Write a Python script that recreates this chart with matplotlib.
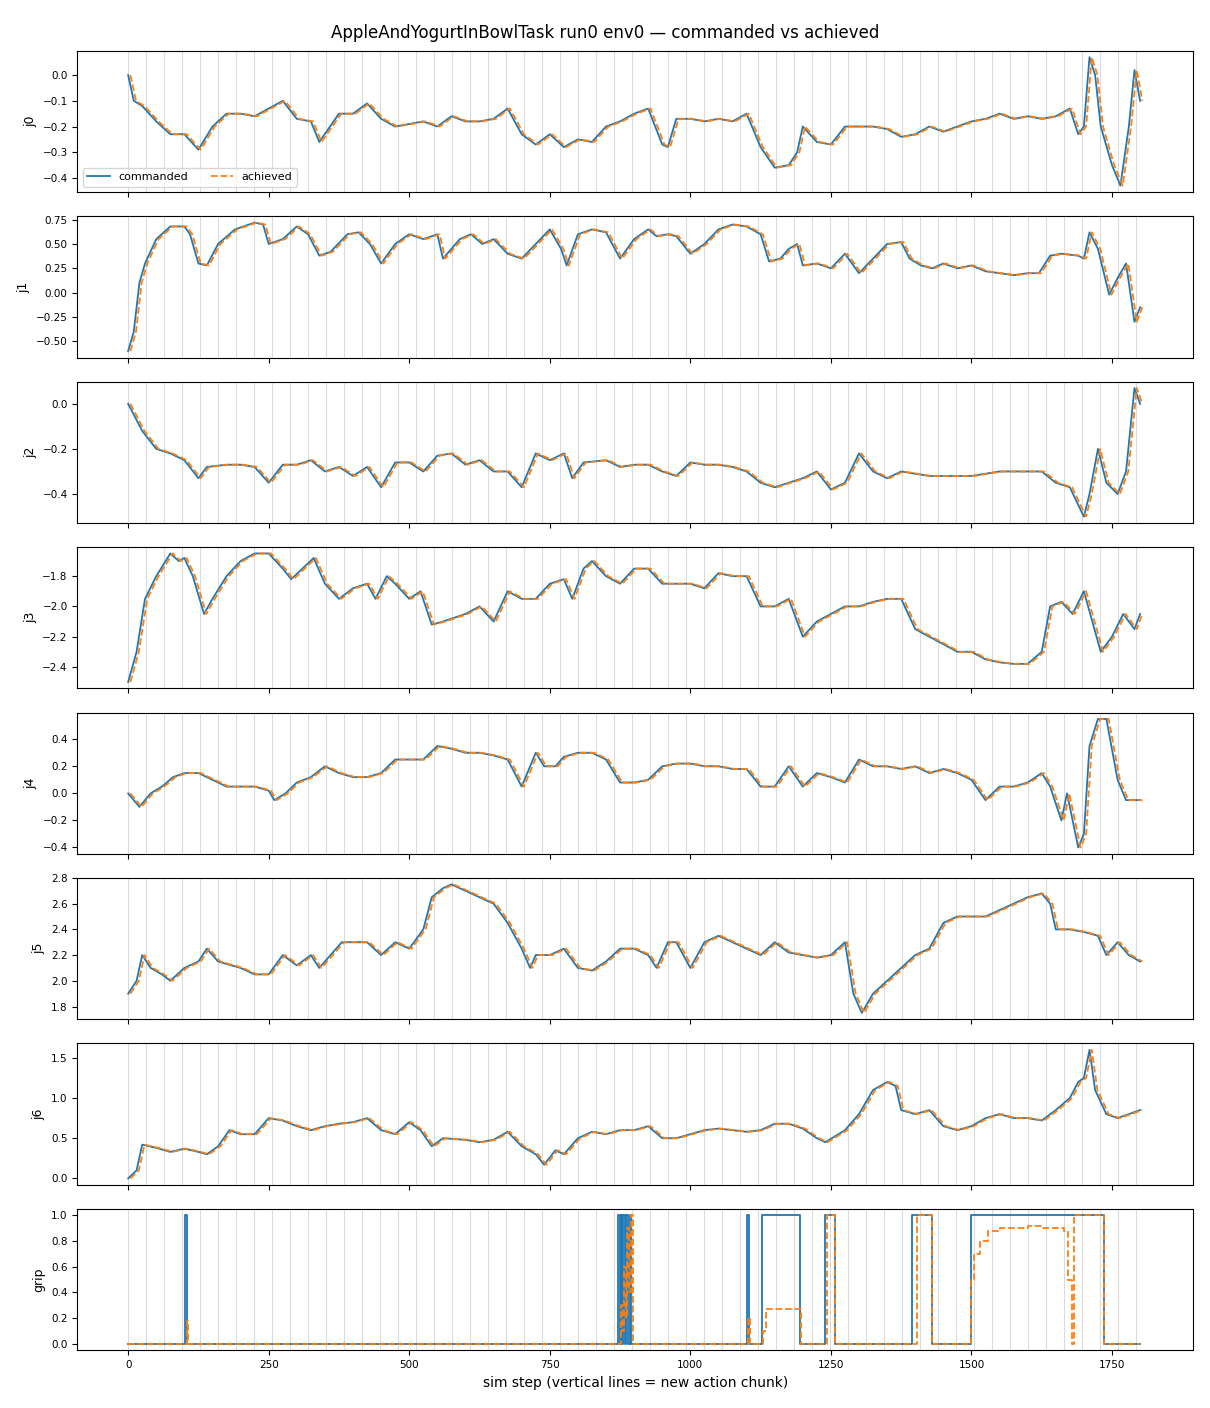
import numpy as np
import matplotlib.pyplot as plt

# keypoints (step, value)
j0_steps = [0, 10, 25, 50, 75, 100, 125, 150, 175, 200, 225, 250, 275, 300, 325, 340, 375, 400, 425, 450, 475, 500, 525, 550, 575, 600, 625, 650, 675, 700, 725, 750, 775, 800, 825, 850, 875, 900, 925, 950, 960, 975, 1000, 1025, 1050, 1075, 1100, 1125, 1150, 1175, 1190, 1200, 1225, 1250, 1275, 1300, 1325, 1350, 1375, 1400, 1425, 1450, 1475, 1500, 1525, 1550, 1575, 1600, 1625, 1650, 1675, 1690, 1700, 1710, 1720, 1730, 1750, 1765, 1780, 1790, 1800]
j0_vals = [0.0, -0.1, -0.12, -0.18, -0.23, -0.23, -0.29, -0.2, -0.15, -0.15, -0.16, -0.13, -0.10, -0.17, -0.18, -0.26, -0.15, -0.15, -0.11, -0.17, -0.2, -0.19, -0.18, -0.2, -0.16, -0.18, -0.18, -0.17, -0.13, -0.23, -0.27, -0.23, -0.28, -0.25, -0.26, -0.2, -0.18, -0.15, -0.13, -0.27, -0.28, -0.17, -0.17, -0.18, -0.17, -0.18, -0.15, -0.28, -0.36, -0.35, -0.3, -0.2, -0.26, -0.27, -0.2, -0.2, -0.2, -0.21, -0.24, -0.23, -0.2, -0.22, -0.2, -0.18, -0.17, -0.15, -0.17, -0.16, -0.17, -0.16, -0.13, -0.23, -0.2, 0.07, 0.0, -0.2, -0.35, -0.43, -0.2, 0.02, -0.1]

j1_steps = [0, 10, 20, 30, 50, 75, 100, 110, 125, 140, 160, 190, 225, 240, 250, 275, 300, 320, 340, 360, 390, 410, 430, 450, 475, 500, 525, 550, 560, 590, 610, 630, 650, 675, 700, 725, 750, 770, 780, 800, 825, 850, 875, 900, 925, 940, 960, 975, 1000, 1025, 1050, 1075, 1100, 1125, 1140, 1160, 1175, 1190, 1200, 1225, 1250, 1275, 1300, 1325, 1350, 1375, 1390, 1410, 1430, 1450, 1475, 1500, 1525, 1550, 1575, 1600, 1620, 1640, 1660, 1690, 1700, 1710, 1725, 1745, 1760, 1775, 1790, 1800]
j1_vals = [-0.6, -0.4, 0.1, 0.3, 0.55, 0.68, 0.68, 0.6, 0.3, 0.28, 0.5, 0.65, 0.72, 0.7, 0.5, 0.55, 0.68, 0.6, 0.38, 0.42, 0.6, 0.62, 0.5, 0.3, 0.5, 0.6, 0.55, 0.6, 0.35, 0.55, 0.6, 0.5, 0.55, 0.4, 0.35, 0.5, 0.65, 0.45, 0.28, 0.6, 0.65, 0.62, 0.35, 0.55, 0.65, 0.58, 0.6, 0.58, 0.4, 0.5, 0.65, 0.7, 0.68, 0.6, 0.32, 0.35, 0.45, 0.5, 0.28, 0.3, 0.25, 0.4, 0.2, 0.35, 0.5, 0.52, 0.35, 0.28, 0.25, 0.3, 0.25, 0.28, 0.22, 0.2, 0.18, 0.2, 0.2, 0.38, 0.4, 0.38, 0.35, 0.62, 0.45, -0.02, 0.15, 0.3, -0.3, -0.15]

j2_steps = [0, 25, 50, 75, 100, 125, 140, 175, 200, 225, 250, 275, 300, 325, 350, 375, 400, 425, 450, 475, 500, 525, 550, 575, 600, 625, 650, 675, 700, 725, 750, 775, 790, 810, 850, 875, 900, 925, 950, 975, 1000, 1025, 1050, 1075, 1100, 1125, 1150, 1175, 1200, 1225, 1250, 1275, 1300, 1325, 1350, 1375, 1400, 1425, 1450, 1475, 1500, 1525, 1550, 1575, 1600, 1625, 1650, 1675, 1700, 1710, 1725, 1740, 1760, 1775, 1790, 1800]
j2_vals = [0.0, -0.12, -0.2, -0.22, -0.25, -0.33, -0.28, -0.27, -0.27, -0.28, -0.35, -0.27, -0.27, -0.25, -0.3, -0.28, -0.32, -0.28, -0.37, -0.26, -0.26, -0.3, -0.23, -0.22, -0.27, -0.25, -0.3, -0.3, -0.37, -0.22, -0.25, -0.22, -0.33, -0.26, -0.25, -0.28, -0.27, -0.27, -0.3, -0.32, -0.26, -0.27, -0.27, -0.28, -0.3, -0.35, -0.37, -0.35, -0.33, -0.3, -0.38, -0.35, -0.22, -0.3, -0.33, -0.3, -0.31, -0.32, -0.32, -0.32, -0.32, -0.31, -0.3, -0.3, -0.3, -0.3, -0.35, -0.37, -0.5, -0.4, -0.2, -0.35, -0.4, -0.3, 0.07, 0.0]

j3_steps = [0, 15, 30, 50, 75, 90, 100, 115, 135, 150, 175, 200, 225, 250, 275, 290, 310, 330, 350, 375, 400, 425, 440, 460, 475, 500, 520, 540, 560, 600, 625, 650, 675, 700, 725, 750, 775, 790, 810, 825, 850, 875, 900, 925, 950, 975, 1000, 1025, 1050, 1075, 1100, 1125, 1150, 1175, 1200, 1225, 1250, 1275, 1300, 1325, 1350, 1375, 1400, 1425, 1450, 1475, 1500, 1525, 1550, 1575, 1600, 1625, 1640, 1660, 1680, 1700, 1715, 1730, 1750, 1770, 1790, 1800]
j3_vals = [-2.5, -2.3, -1.95, -1.8, -1.65, -1.7, -1.68, -1.8, -2.05, -1.95, -1.8, -1.7, -1.65, -1.65, -1.75, -1.82, -1.75, -1.68, -1.85, -1.95, -1.88, -1.85, -1.95, -1.8, -1.85, -1.95, -1.9, -2.12, -2.1, -2.05, -2.0, -2.1, -1.9, -1.95, -1.95, -1.85, -1.82, -1.95, -1.75, -1.7, -1.8, -1.85, -1.75, -1.75, -1.85, -1.85, -1.85, -1.88, -1.78, -1.8, -1.8, -2.0, -2.0, -1.95, -2.2, -2.1, -2.05, -2.0, -2.0, -1.97, -1.95, -1.95, -2.15, -2.2, -2.25, -2.3, -2.3, -2.35, -2.37, -2.38, -2.38, -2.3, -2.0, -1.97, -2.05, -1.9, -2.1, -2.3, -2.2, -2.05, -2.15, -2.05]

j4_steps = [0, 20, 40, 60, 80, 100, 125, 150, 175, 200, 225, 250, 260, 280, 300, 325, 350, 375, 400, 425, 450, 475, 500, 525, 550, 575, 600, 625, 650, 675, 700, 725, 740, 760, 775, 800, 825, 850, 875, 900, 925, 950, 975, 1000, 1025, 1050, 1075, 1100, 1125, 1150, 1175, 1200, 1225, 1250, 1275, 1300, 1325, 1350, 1375, 1400, 1425, 1450, 1475, 1500, 1525, 1550, 1575, 1600, 1625, 1640, 1660, 1670, 1690, 1700, 1710, 1725, 1740, 1760, 1775, 1800]
j4_vals = [0.0, -0.1, 0.0, 0.05, 0.12, 0.15, 0.15, 0.1, 0.05, 0.05, 0.05, 0.02, -0.05, 0.0, 0.08, 0.12, 0.2, 0.15, 0.12, 0.12, 0.15, 0.25, 0.25, 0.25, 0.35, 0.33, 0.3, 0.3, 0.28, 0.25, 0.05, 0.3, 0.2, 0.2, 0.27, 0.3, 0.3, 0.25, 0.08, 0.08, 0.1, 0.2, 0.22, 0.22, 0.2, 0.2, 0.18, 0.18, 0.05, 0.05, 0.2, 0.05, 0.15, 0.12, 0.08, 0.25, 0.2, 0.2, 0.18, 0.2, 0.15, 0.18, 0.15, 0.1, -0.05, 0.05, 0.05, 0.08, 0.15, 0.05, -0.2, 0.0, -0.4, -0.3, 0.35, 0.55, 0.55, 0.1, -0.05, -0.05]

j5_steps = [0, 15, 25, 40, 60, 75, 100, 125, 140, 160, 200, 225, 250, 275, 300, 325, 340, 360, 380, 400, 425, 450, 475, 500, 525, 540, 560, 575, 600, 625, 650, 675, 700, 715, 725, 750, 775, 800, 825, 850, 875, 900, 925, 940, 960, 975, 1000, 1025, 1050, 1075, 1100, 1125, 1150, 1175, 1200, 1225, 1250, 1275, 1290, 1305, 1325, 1350, 1375, 1400, 1425, 1450, 1475, 1500, 1525, 1550, 1575, 1600, 1625, 1640, 1650, 1675, 1700, 1725, 1740, 1760, 1780, 1800]
j5_vals = [1.9, 2.0, 2.2, 2.1, 2.05, 2.0, 2.1, 2.15, 2.25, 2.15, 2.1, 2.05, 2.05, 2.2, 2.12, 2.2, 2.1, 2.2, 2.3, 2.3, 2.3, 2.2, 2.3, 2.25, 2.4, 2.65, 2.72, 2.75, 2.7, 2.65, 2.6, 2.45, 2.25, 2.1, 2.2, 2.2, 2.25, 2.1, 2.08, 2.15, 2.25, 2.25, 2.2, 2.1, 2.3, 2.3, 2.1, 2.3, 2.35, 2.3, 2.25, 2.2, 2.3, 2.22, 2.2, 2.18, 2.2, 2.3, 1.9, 1.75, 1.9, 2.0, 2.1, 2.2, 2.25, 2.45, 2.5, 2.5, 2.5, 2.55, 2.6, 2.65, 2.68, 2.6, 2.4, 2.4, 2.38, 2.35, 2.2, 2.3, 2.2, 2.15]

j6_steps = [0, 15, 25, 50, 75, 100, 125, 140, 160, 180, 200, 225, 250, 275, 300, 325, 350, 375, 400, 425, 450, 475, 500, 520, 540, 560, 600, 625, 650, 675, 700, 725, 740, 760, 775, 800, 825, 850, 875, 900, 925, 950, 975, 1000, 1025, 1050, 1075, 1100, 1125, 1150, 1175, 1200, 1225, 1240, 1275, 1300, 1325, 1350, 1365, 1375, 1400, 1425, 1450, 1475, 1500, 1525, 1550, 1575, 1600, 1625, 1650, 1675, 1690, 1700, 1710, 1720, 1740, 1760, 1780, 1800]
j6_vals = [0.0, 0.1, 0.42, 0.38, 0.33, 0.37, 0.33, 0.3, 0.4, 0.6, 0.55, 0.55, 0.75, 0.72, 0.65, 0.6, 0.65, 0.68, 0.7, 0.75, 0.6, 0.55, 0.7, 0.6, 0.4, 0.5, 0.48, 0.45, 0.48, 0.58, 0.4, 0.3, 0.17, 0.35, 0.3, 0.5, 0.58, 0.55, 0.6, 0.6, 0.65, 0.5, 0.5, 0.55, 0.6, 0.62, 0.6, 0.58, 0.6, 0.68, 0.68, 0.62, 0.5, 0.45, 0.6, 0.8, 1.1, 1.2, 1.15, 0.85, 0.8, 0.85, 0.65, 0.6, 0.65, 0.75, 0.8, 0.75, 0.75, 0.72, 0.85, 1.0, 1.2, 1.25, 1.6, 1.1, 0.8, 0.75, 0.8, 0.85]

# gripper, drawn as steps
grip_cmd_steps = [0, 102, 105, 872, 874, 876, 878, 880, 883, 886, 889, 892, 895, 1100, 1105, 1128, 1195, 1240, 1257, 1395, 1430, 1500, 1735, 1800]
grip_cmd_vals = [0, 1, 0, 1, 0, 1, 0, 1, 0, 1, 0, 1, 0, 1, 0, 1, 0, 1, 0, 1, 0, 1, 0, 0]
grip_ach_steps = [0, 104, 107, 876, 879, 882, 885, 888, 891, 894, 898, 1103, 1106, 1130, 1135, 1197, 1243, 1258, 1403, 1430, 1500, 1505, 1515, 1530, 1550, 1575, 1600, 1625, 1650, 1665, 1672, 1678, 1682, 1735, 1800]
grip_ach_vals = [0, 0.18, 0, 0.3, 0.1, 0.6, 0.2, 0.9, 0.4, 1.0, 0, 0.2, 0, 0.1, 0.27, 0, 1, 0, 1, 0, 0.5, 0.7, 0.8, 0.88, 0.9, 0.9, 0.92, 0.9, 0.9, 0.88, 0.5, 0.0, 1.0, 0, 0]

ACH_LAG = 4
chunk = 32
n_steps = 1800

joints = [("j0", j0_steps, j0_vals), ("j1", j1_steps, j1_vals), ("j2", j2_steps, j2_vals),
          ("j3", j3_steps, j3_vals), ("j4", j4_steps, j4_vals), ("j5", j5_steps, j5_vals),
          ("j6", j6_steps, j6_vals)]

fig, axes = plt.subplots(8, 1, figsize=(12.1, 14.08), dpi=100, sharex=True)
fig.subplots_adjust(left=0.064, right=0.986, top=0.964, bottom=0.041, hspace=0.17)

for ax in axes:
    for x in range(0, n_steps + 1, chunk):
        ax.axvline(x, color='lightgray', linewidth=0.8, alpha=0.8, zorder=0)
    ax.tick_params(labelsize=7.5)

for ax, (name, st, vals) in zip(axes[:7], joints):
    ax.plot(st, vals, color='tab:blue', linewidth=1.3, label='commanded')
    ax.plot(np.array(st) + ACH_LAG, vals, color='tab:orange', linewidth=1.3,
            linestyle='--', label='achieved')
    ax.set_ylabel(name, fontsize=9)

ax = axes[7]
ax.step(grip_cmd_steps, grip_cmd_vals, where='post', color='tab:blue', linewidth=1.3)
ax.step(grip_ach_steps, grip_ach_vals, where='post', color='tab:orange', linewidth=1.3, linestyle='--')
ax.set_ylabel('grip', fontsize=9)
ax.set_xlabel('sim step (vertical lines = new action chunk)', fontsize=10)

axes[0].legend(loc='lower left', ncol=2, fontsize=8)
fig.suptitle('AppleAndYogurtInBowlTask run0 env0 — commanded vs achieved', fontsize=12, y=0.983)

plt.savefig('out.png', dpi=100)
